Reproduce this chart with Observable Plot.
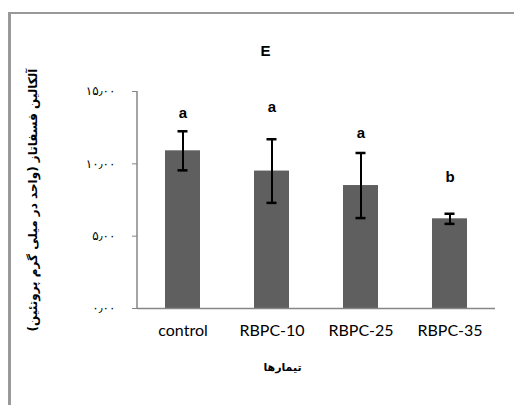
<!DOCTYPE html>
<html>
<head>
<meta charset="utf-8">
<script src="https://cdn.jsdelivr.net/npm/d3@7"></script>
<script src="https://cdn.jsdelivr.net/npm/@observablehq/plot@0.6"></script>
<style>
  html, body { margin: 0; padding: 0; background: #fff; }
  #wrap { position: relative; width: 514px; height: 405px; overflow: hidden; }
  #border { position: absolute; left: 8px; top: 12px; width: 520px; height: 400px;
            border-left: 3px solid #999; border-top: 2px solid #999; }
  #chart { position: absolute; left: 0; top: 0; }
</style>
</head>
<body>
<div id="wrap"><div id="border"></div><div id="chart"></div></div>
<script>
const categories = ["control", "RBPC-10", "RBPC-25", "RBPC-35"];
const means = [10.9, 9.5, 8.5, 6.2];
const errors = [1.35, 2.2, 2.25, 0.35];
const letters = ["a", "a", "a", "b"];
const letterY = [13.5, 13.9, 12.1, 9.05];
const yTicks = [0, 5, 10, 15];
const title = "E";
const yLabel = "آلکالین فسفاتاز (واحد در میلی گرم پروتئین)";
const xLabel = "تیمارها";

const data = categories.map((c, i) => ({
  cat: c, mean: means[i], lo: means[i] - errors[i], hi: means[i] + errors[i],
  letter: letters[i], ly: letterY[i]
}));

const fa = "۰۱۲۳۴۵۶۷۸۹";
const toFa = d => d.toFixed(2).replace(/\d/g, ch => fa[+ch]).replace(".", "٫");

const chart = Plot.plot({
  width: 514,
  height: 405,
  marginLeft: 137,
  marginRight: 19,
  marginTop: 91,
  marginBottom: 97,
  style: { background: "transparent", fontFamily: "Lato, sans-serif" },
  x: { domain: categories, paddingInner: 0.61, paddingOuter: 0.305, label: null },
  y: { domain: [0, 15], ticks: yTicks, label: null },
  marks: [
    Plot.barY(data, { x: "cat", y: "mean", fill: "#5f5f5f" }),
    Plot.ruleX(data, { x: "cat", y1: "lo", y2: "hi", stroke: "#000", strokeWidth: 2 }),
    Plot.tickY(data, { x: "cat", y: "lo", stroke: "#000", strokeWidth: 2.5, insetLeft: 12.5, insetRight: 12.5 }),
    Plot.tickY(data, { x: "cat", y: "hi", stroke: "#000", strokeWidth: 2.5, insetLeft: 12.5, insetRight: 12.5 }),
    Plot.text(data, { x: "cat", y: "ly", text: "letter", fontSize: 15, fontWeight: "bold", fill: "#000", fontFamily: "Liberation Sans, Arial, sans-serif" }),
    Plot.ruleY([0], { stroke: "#868686", strokeWidth: 1.5 }),
    Plot.axisY({ ticks: yTicks, tickSize: 5, tickPadding: 17, stroke: "#868686", tickFormat: toFa,
      fontSize: 12, fill: "#000", fontFamily: "DejaVu Sans, sans-serif", label: null }),
    Plot.axisX({ tickSize: 0, tickPadding: 16, fontSize: 16, fill: "#000", label: null }),
    Plot.text([title], { frameAnchor: "top", dx: -51, dy: -46, fontSize: 15, fontWeight: "bold", fill: "#000",
      fontFamily: "Liberation Sans, Arial, sans-serif" }),
    Plot.text([yLabel], { frameAnchor: "left", rotate: -90, textAnchor: "middle", dx: -104, dy: 0, fontSize: 12, fontWeight: "bold", fill: "#000",
      fontFamily: "DejaVu Sans, sans-serif" }),
    Plot.text([xLabel], { frameAnchor: "bottom", dx: -34, dy: 62, fontSize: 11, fontWeight: "bold", fill: "#000",
      fontFamily: "DejaVu Sans, sans-serif" })
  ]
});
// vertical y-axis line, positioned through Plot's own scales
const svg = d3.select(chart);
const yScale = chart.scale("y");
const xScale = chart.scale("x");
svg.append("line")
  .attr("x1", xScale.range[0]).attr("x2", xScale.range[0])
  .attr("y1", yScale.apply(yTicks[0])).attr("y2", yScale.apply(yTicks[yTicks.length - 1]))
  .attr("stroke", "#868686").attr("stroke-width", 1.5);
document.getElementById("chart").appendChild(chart);
</script>
</body>
</html>
